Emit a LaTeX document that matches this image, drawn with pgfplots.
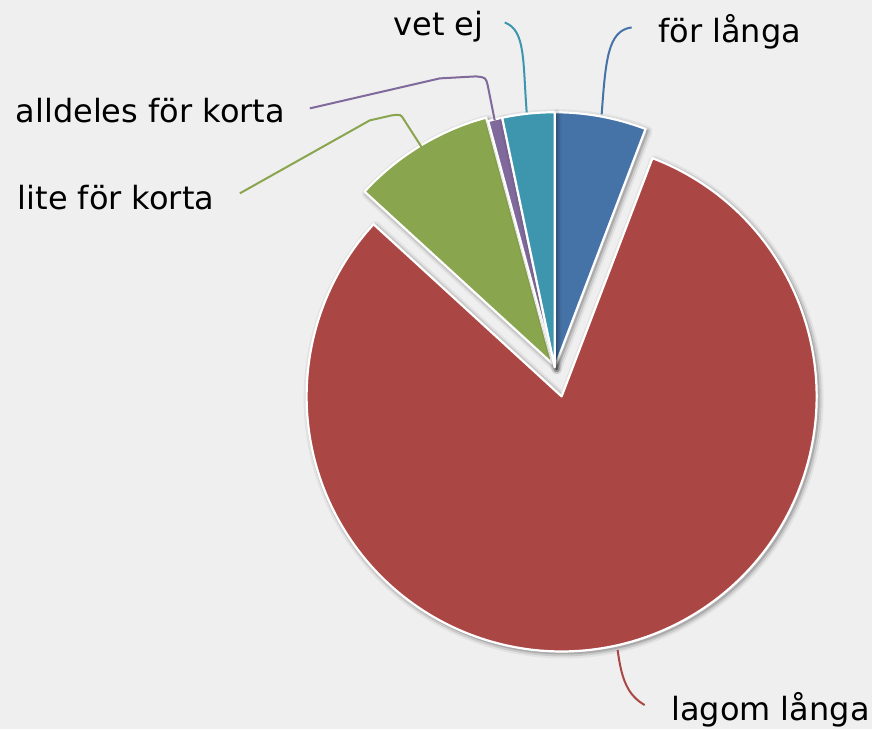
\documentclass[border=0pt]{standalone}
\usepackage{pgfplots}
\pgfplotsset{compat=1.18}
\usepackage{fontspec}
\setmainfont{DejaVu Sans}
\definecolor{bg}{HTML}{EFEFEF}
\definecolor{cblue}{HTML}{4572A7}
\definecolor{cred}{HTML}{AA4643}
\definecolor{cgreen}{HTML}{89A54E}
\definecolor{cpurple}{HTML}{80699B}
\definecolor{cteal}{HTML}{3D96AE}
% #1 cumulative start (%), #2 value (%), #3 explode offset (px), #4 colour
\newcommand\slicepath[3]{%
  (axis cs:{555+#3*sin(3.6*(#1+#2/2))},{367-#3*cos(3.6*(#1+#2/2))})
  -- ++({90-3.6*(#1)}:2.55cm)
  arc[start angle={90-3.6*(#1)}, delta angle={-3.6*(#2)}, radius=2.55cm] -- cycle}
\newcommand\slice[4]{%
  \draw[black, opacity=0.05, line width=0.10cm, line join=round, shift={(0.02cm,-0.02cm)}] \slicepath{#1}{#2}{#3};
  \draw[black, opacity=0.10, line width=0.06cm, line join=round, shift={(0.02cm,-0.02cm)}] \slicepath{#1}{#2}{#3};
  \draw[black, opacity=0.15, line width=0.02cm, line join=round, shift={(0.02cm,-0.02cm)}] \slicepath{#1}{#2}{#3};
  \fill[#4, draw=white, line width=0.022cm, line join=round] \slicepath{#1}{#2}{#3};
}
\tikzset{lab/.style={font=\fontsize{9.1}{11}\selectfont, text=black, inner sep=0pt, anchor=base west}}
\begin{document}
\begin{tikzpicture}
\begin{axis}[
  x=0.01cm, y=0.01cm, y dir=reverse,
  xmin=0, xmax=872, ymin=0, ymax=729,
  hide axis, clip=false,
]
\fill[bg] (axis cs:0,0) rectangle (axis cs:872,729);
% values (%): för långa 5.8, lagom långa 81.0, lite för korta 9.0, alldeles för korta 0.9, vet ej 3.3
\slice{0}{5.8}{0}{cblue}
\slice{5.8}{81.0}{30}{cred}
\slice{86.8}{9.0}{4}{cgreen}
\slice{95.8}{0.9}{0}{cpurple}
\slice{96.7}{3.3}{0}{cteal}
% connectors
\draw[cblue, line width=0.02cm] (axis cs:602,114) .. controls (axis cs:606,60) and (axis cs:608,30) .. (axis cs:632,27);
\draw[cteal, line width=0.02cm] (axis cs:527,112) .. controls (axis cs:523,60) and (axis cs:526,30) .. (axis cs:505,22);
\draw[cpurple, line width=0.02cm] (axis cs:495,120) -- (axis cs:488,85) .. controls (axis cs:486,77) .. (axis cs:476,76) -- (axis cs:440,78) -- (axis cs:310,108);
\draw[cgreen, line width=0.02cm] (axis cs:422,147) -- (axis cs:404,119) .. controls (axis cs:401,114) .. (axis cs:392,115) -- (axis cs:370,120) -- (axis cs:240,193);
\draw[cred, line width=0.02cm] (axis cs:618,650) .. controls (axis cs:622,680) and (axis cs:628,695) .. (axis cs:645,705);
% labels
\node[lab] at (axis cs:658,42) {för långa};
\node[lab] at (axis cs:393,35) {vet ej};
\node[lab] at (axis cs:15,122) {alldeles för korta};
\node[lab] at (axis cs:17,209) {lite för korta};
\node[lab] at (axis cs:671,720) {lagom långa};
\end{axis}
\pgfresetboundingbox
\useasboundingbox (0,0) rectangle (8.72cm,7.29cm);
\end{tikzpicture}
\end{document}
